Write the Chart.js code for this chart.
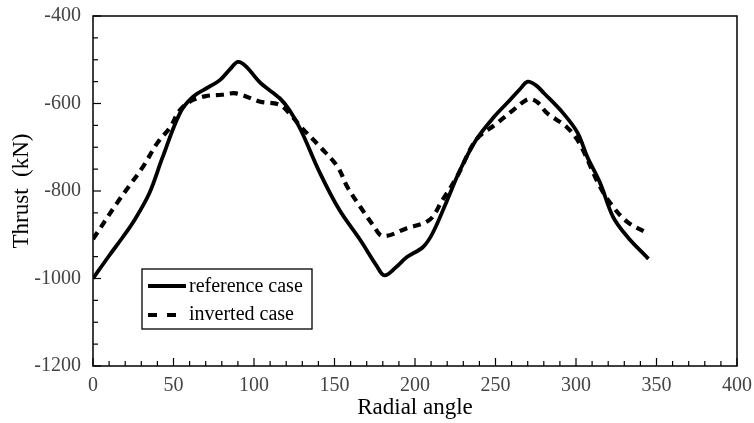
<!DOCTYPE html>
<html>
<head>
<meta charset="utf-8">
<script src="https://cdn.jsdelivr.net/npm/chart.js@4.4.0/dist/chart.umd.min.js"></script>
<style>
html,body{margin:0;padding:0;background:#fff;}
#wrap{width:754px;height:423px;}
</style>
</head>
<body>
<div id="wrap"><canvas id="c" width="754" height="423"></canvas></div>
<script>
// values
const refAngle  = [0,10,18,25,35,43,54,62,72,79,85,90,95,104,116,122,129,141,153,166,176,181,188,195,205,211,220,228,238,249,259,265,270,275,280,292,301,307,315,323,332,345];
const refThrust = [-1000,-948,-908,-871,-805,-725,-622,-585,-562,-546,-522,-505,-515,-553,-588,-615,-660,-759,-843,-912,-970,-993,-975,-951,-928,-896,-821,-752,-683,-631,-592,-568,-550,-558,-576,-622,-667,-722,-782,-859,-905,-955];
const invAngle  = [0,15,23,31,40,48,54,62,70,80,89,104,116,124,129,141,152,158,166,174,180,195,209,217,226,238,251,261,267,271,276,282,294,302,315,323,332,344];
const invThrust = [-910,-827,-786,-745,-690,-654,-615,-592,-583,-580,-577,-596,-603,-631,-653,-699,-745,-791,-836,-878,-903,-885,-866,-821,-768,-683,-645,-615,-597,-590,-597,-622,-653,-690,-791,-836,-871,-896];
const xTicks = [0,50,100,150,200,250,300,350,400];
const yTicks = [-1200,-1000,-800,-600,-400];
const seriesNames = ["reference case","inverted case"];

const serif = "'Liberation Serif','Times New Roman',serif";

function pairs(xs,ys){return xs.map((x,i)=>({x:x,y:ys[i]}));}

// box, inward ticks and minor ticks
const frame = {
  id:'frame',
  afterDraw(chart){
    const ctx=chart.ctx, a=chart.chartArea, xs=chart.scales.x, ys=chart.scales.y;
    ctx.save();
    ctx.strokeStyle='#000'; ctx.lineWidth=1.5;
    ctx.strokeRect(a.left,a.top,a.right-a.left,a.bottom-a.top);
    ctx.lineWidth=1.2;
    for(let v=0;v<=400;v+=10){
      const px=xs.getPixelForValue(v), len=(v%50===0)?8:5;
      ctx.beginPath(); ctx.moveTo(px,a.bottom); ctx.lineTo(px,a.bottom-len); ctx.stroke();
    }
    for(let v=-1200;v<=-400;v+=50){
      const py=ys.getPixelForValue(v), len=(v%200===0)?8:5;
      ctx.beginPath(); ctx.moveTo(a.left,py); ctx.lineTo(a.left+len,py); ctx.stroke();
    }
    // legend
    const lx=142, ly=269, lw=170, lh=60;
    ctx.fillStyle='#fff'; ctx.fillRect(lx,ly,lw,lh);
    ctx.lineWidth=1.3; ctx.strokeRect(lx,ly,lw,lh);
    ctx.fillStyle='#000'; ctx.font="20px "+serif; ctx.textBaseline='middle';
    ctx.lineWidth=4;
    ctx.beginPath(); ctx.moveTo(148,286); ctx.lineTo(186,286); ctx.stroke();
    ctx.setLineDash([9,10]);
    ctx.beginPath(); ctx.moveTo(148,315); ctx.lineTo(186,315); ctx.stroke();
    ctx.setLineDash([]);
    ctx.fillText(seriesNames[0],189,287);
    ctx.fillText(seriesNames[1],189,315);
    ctx.restore();
  }
};

new Chart(document.getElementById('c'),{
  type:'line',
  data:{datasets:[
    {label:seriesNames[0],data:pairs(refAngle,refThrust),borderColor:'#000',borderWidth:3.8,pointRadius:0,tension:0.35,fill:false},
    {label:seriesNames[1],data:pairs(invAngle,invThrust),borderColor:'#000',borderWidth:4.2,borderDash:[8,6],pointRadius:0,tension:0.35,fill:false}
  ]},
  options:{
    responsive:false,animation:false,
    layout:{padding:{top:16,right:17,left:0,bottom:0}},
    plugins:{legend:{display:false},tooltip:{enabled:false}},
    scales:{
      x:{type:'linear',min:0,max:400,
        afterFit(s){s.height=57;},
        afterBuildTicks(s){s.ticks=xTicks.map(v=>({value:v}));},
        grid:{display:false},border:{display:false},
        ticks:{color:'#444',font:{family:serif,size:20},padding:0,maxRotation:0},
        title:{display:true,text:'Radial angle',color:'#000',font:{family:serif,size:23},padding:{top:0,bottom:1}}
      },
      y:{type:'linear',min:-1200,max:-400,
        afterFit(s){s.width=93;},
        afterBuildTicks(s){s.ticks=yTicks.map(v=>({value:v}));},
        grid:{display:false},border:{display:false},
        ticks:{color:'#444',font:{family:serif,size:20},padding:4,callback:v=>String(v)},
        title:{display:true,text:'Thrust  (kN)',color:'#000',font:{family:serif,size:23},padding:{top:8,bottom:0}}
      }
    }
  },
  plugins:[frame]
});
</script>
</body>
</html>
